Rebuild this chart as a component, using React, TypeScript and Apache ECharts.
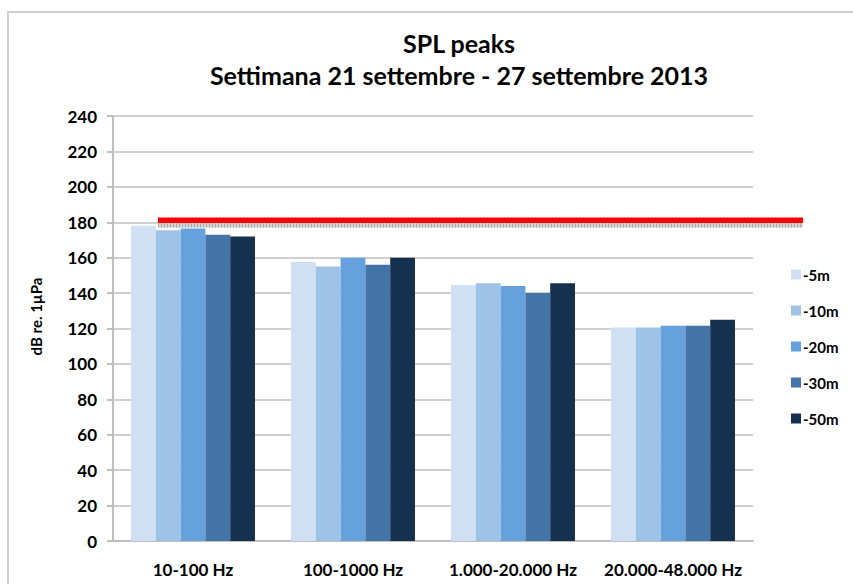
import React, { useEffect, useRef } from "react";
import * as echarts from "echarts";

const categories = ["10-100 Hz", "100-1000 Hz", "1.000-20.000 Hz", "20.000-48.000 Hz"];
const seriesNames = ["-5m", "-10m", "-20m", "-30m", "-50m"];
const m5 = [178, 157.5, 144.5, 120.5];
const m10 = [175.5, 155, 145.5, 120.5];
const m20 = [176.5, 160, 144, 121.5];
const m30 = [173, 156, 140, 121.5];
const m50 = [172, 160, 145.5, 125];
const seriesValues = [m5, m10, m20, m30, m50];
const colors = ["#CFE0F3", "#9EC3E7", "#65A1DC", "#4473A5", "#16314F"];
const thresholdValue = 181;
const yTicks = { min: 0, max: 240, interval: 20 };

const FONT = "Lato, 'Open Sans', sans-serif";

export default function App() {
  const ref = useRef<HTMLDivElement>(null);
  useEffect(() => {
    if (!ref.current) return;
    const chart = echarts.init(ref.current, null, { renderer: "svg" });
    chart.setOption({
      animation: false,
      backgroundColor: "#ffffff",
      title: {
        text: "SPL peaks\nSettimana 21 settembre - 27 settembre 2013",
        left: 454,
        textAlign: "center",
        top: 22,
        textStyle: { fontFamily: FONT, fontWeight: "bold", fontSize: 25, color: "#000", lineHeight: 32 },
      },
      legend: {
        orient: "vertical",
        left: 786,
        top: 262,
        itemWidth: 10,
        itemHeight: 10,
        itemGap: 21,
        icon: "rect",
        textStyle: { fontFamily: FONT, fontWeight: "bold", fontSize: 15, color: "#000", padding: [0, 0, 0, -3] },
        data: seriesNames,
      },
      grid: { left: 113, right: 100, top: 116, bottom: 43, containLabel: false },
      xAxis: {
        type: "category",
        data: categories,
        axisLine: { show: true, lineStyle: { color: "#bfbfbf", width: 2 } },
        axisTick: { show: false },
        axisLabel: { fontFamily: FONT, fontWeight: "bold", fontSize: 17, color: "#000", margin: 20, interval: 0 },
      },
      yAxis: {
        type: "value",
        min: yTicks.min,
        max: yTicks.max,
        interval: yTicks.interval,
        name: "dB re. 1µPa",
        nameLocation: "middle",
        nameGap: 70,
        nameTextStyle: { fontFamily: FONT, fontWeight: "bold", fontSize: 15, color: "#000", padding: [0, 0, 0, 24] },
        axisLine: { show: true, lineStyle: { color: "#bfbfbf", width: 2 } },
        axisTick: { show: true, length: 6, lineStyle: { color: "#bfbfbf", width: 2 } },
        axisLabel: { fontFamily: FONT, fontWeight: "bold", fontSize: 17, color: "#000", margin: 16 },
        splitLine: { show: true, lineStyle: { color: "#d0d0d0", width: 2 } },
      },
      series: seriesNames.map((name, i) => ({
        name,
        type: "bar",
        data: seriesValues[i],
        barGap: "0%",
        barCategoryGap: "22.5%",
        itemStyle: { color: colors[i] },
      })),
    });
    const yPix = chart.convertToPixel({ yAxisIndex: 0 }, thresholdValue) as number;
    chart.setOption({
      graphic: [
        {
          type: "rect",
          shape: { x: 8, y: 12, width: 900, height: 700 },
          style: { fill: "none", stroke: "#cfcfcf", lineWidth: 2 },
          silent: true,
        },
        {
          type: "rect",
          shape: { x: 158, y: yPix + 2.5, width: 645, height: 4.5 },
          style: { fill: "#d4d4d4" },
          silent: true,
          z: 10,
        },
        {
          type: "line",
          shape: { x1: 158, y1: yPix + 4.75, x2: 803, y2: yPix + 4.75 },
          style: { stroke: "#a8a8a8", lineWidth: 4.5, lineDash: [1, 2] },
          silent: true,
          z: 11,
        },
        {
          type: "rect",
          shape: { x: 158, y: yPix - 3, width: 645, height: 5.5 },
          style: { fill: "#ff0000" },
          silent: true,
          z: 12,
        },
      ],
    });
    return () => chart.dispose();
  }, []);
  return <div ref={ref} style={{ width: 853, height: 584, position: "absolute", left: 0, top: 0 }} />;
}
